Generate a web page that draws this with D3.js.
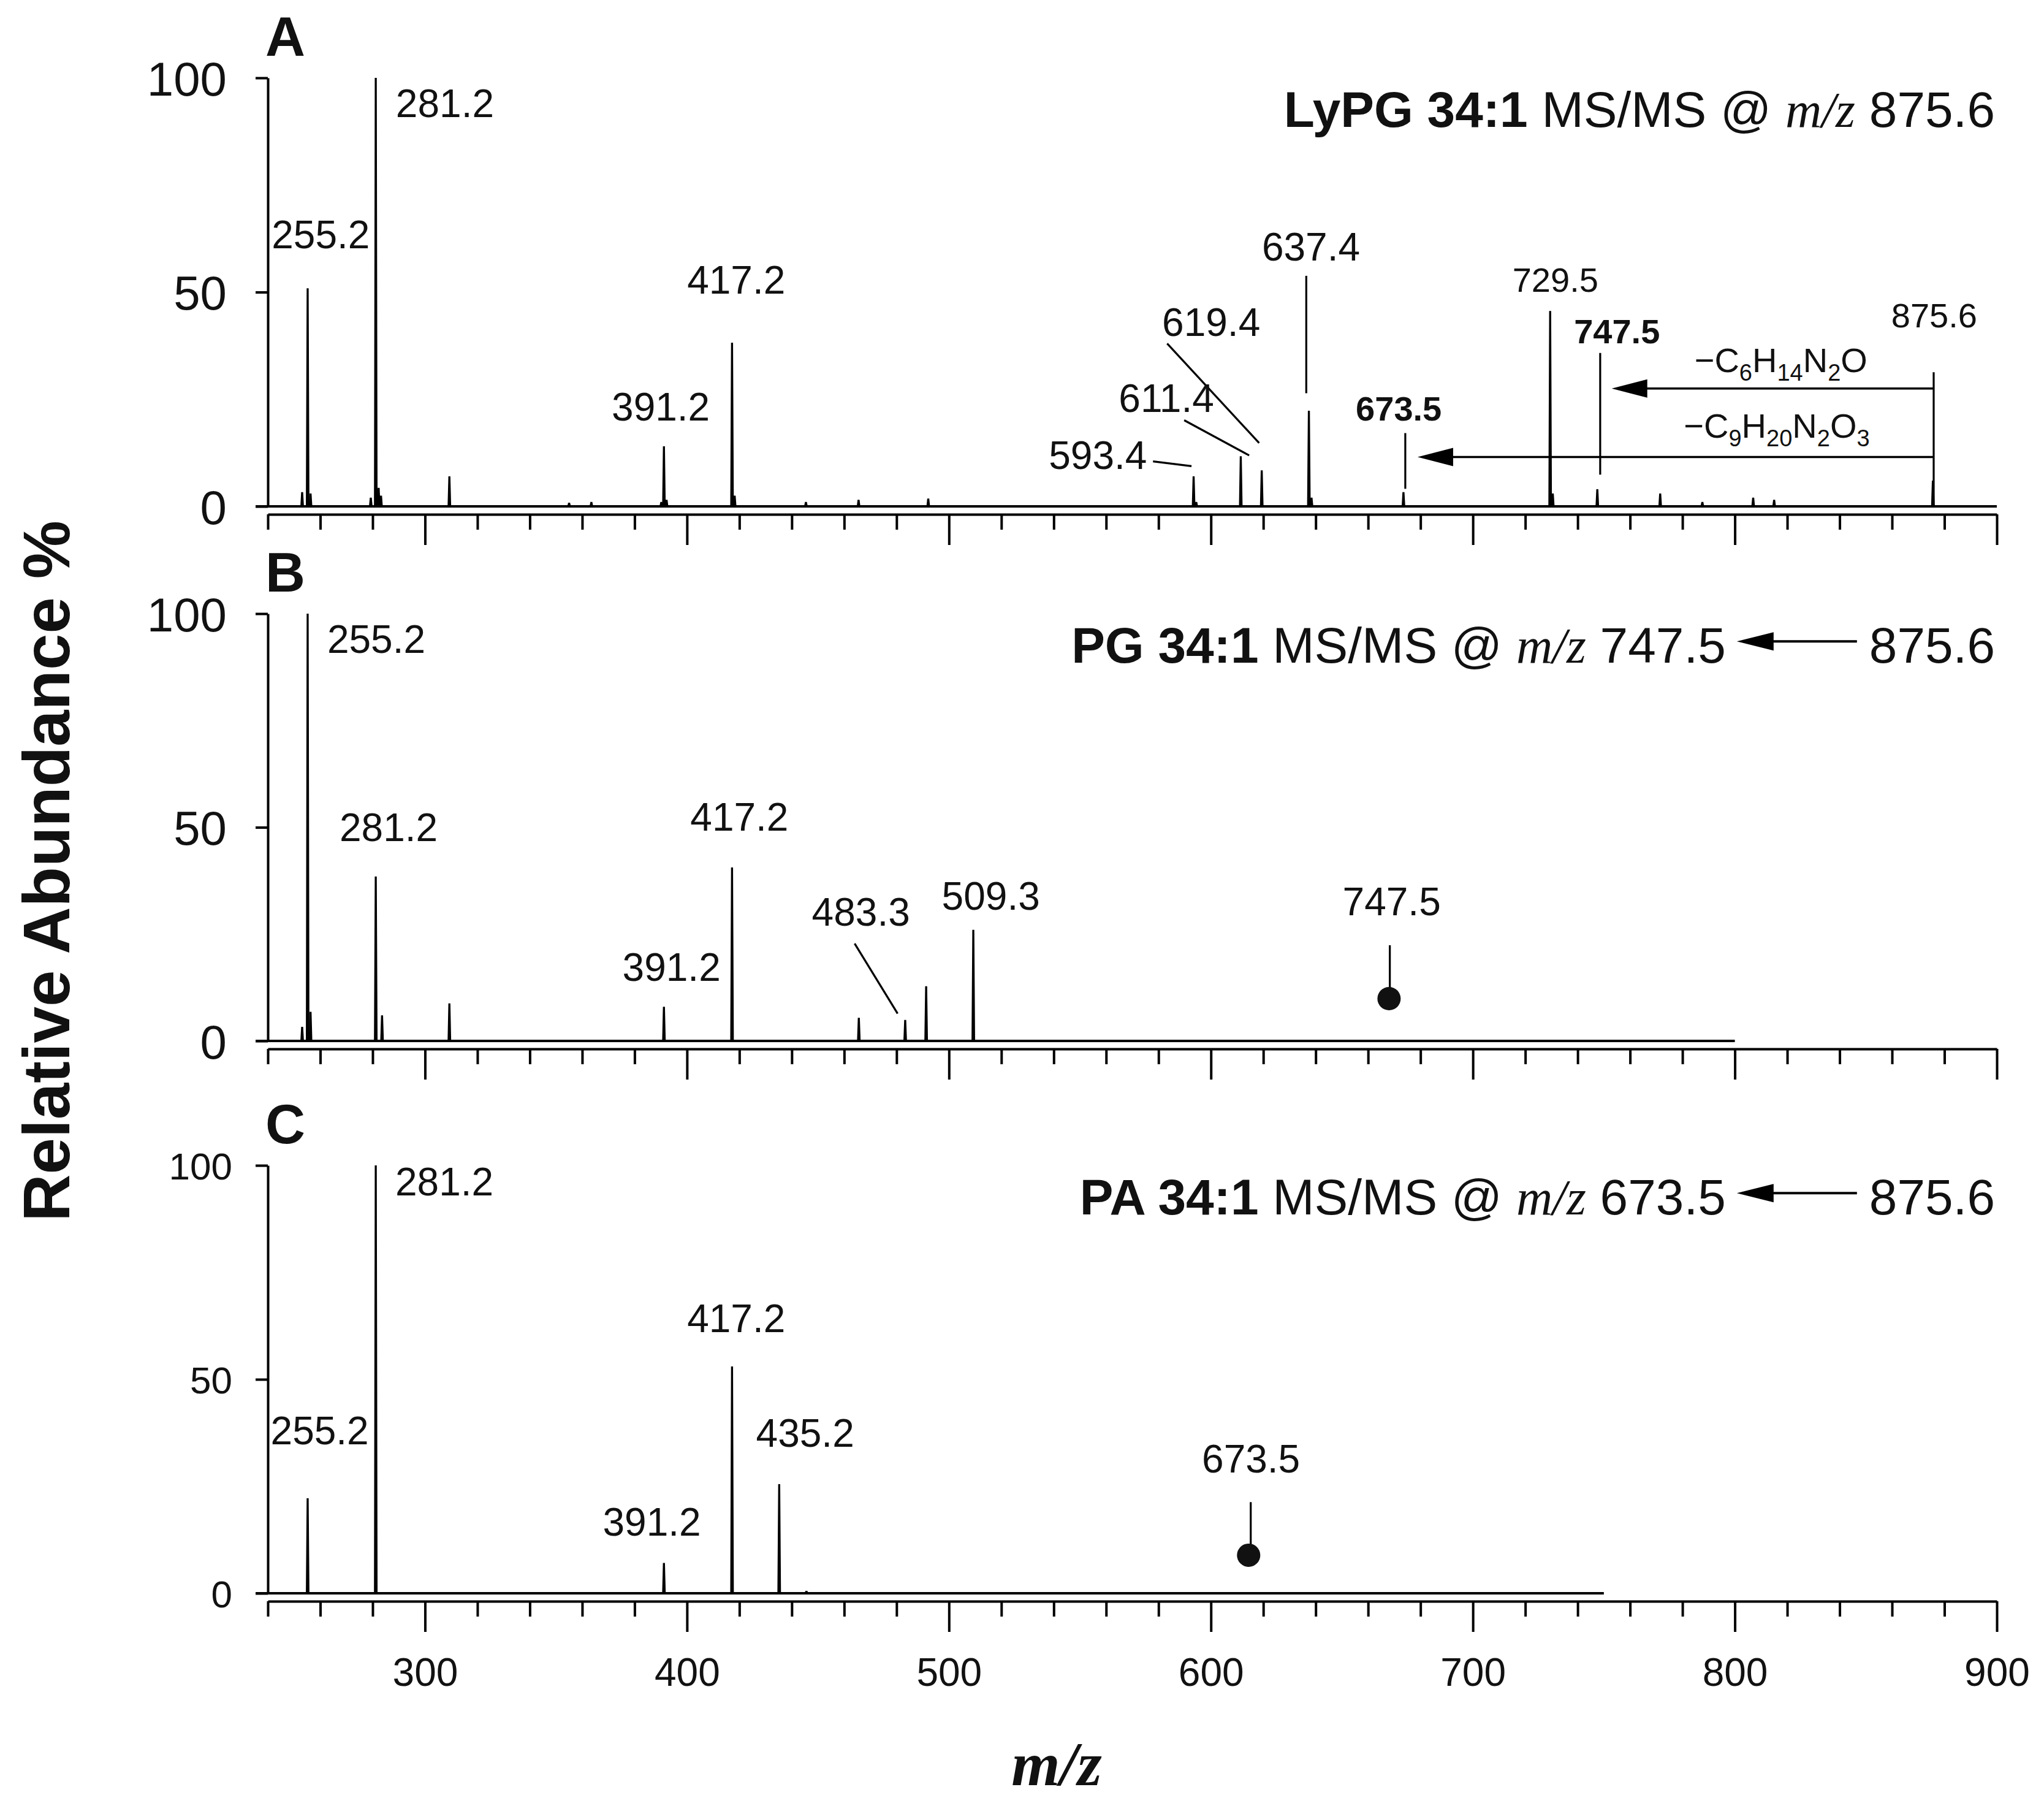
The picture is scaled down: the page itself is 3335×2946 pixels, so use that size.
<!DOCTYPE html>
<html><head><meta charset="utf-8">
<script src="https://cdn.jsdelivr.net/npm/d3@7"></script>
<style>body{margin:0;background:#fff}</style>
</head><body>
<svg id="chart" width="3335" height="2946" xmlns="http://www.w3.org/2000/svg"></svg>
<script>
// ---------------- DATA ----------------
// Panel A : LyPG 34:1 MS/MS @ m/z 875.6
const mzA = [253.1, 255.2, 256.3, 279.3, 281.2, 282.3, 283.2, 309.3, 355.0, 363.5, 390.2, 391.2, 392.2, 417.2, 418.2, 445.4, 465.5, 492.1, 593.4, 594.4, 611.4, 619.4, 637.4, 638.4, 673.5, 729.5, 730.5, 747.5, 771.5, 787.6, 807.0, 815.0, 875.6];
const abA = [3.3, 50.9, 3.0, 2.0, 100, 4.3, 2.5, 7.0, 0.8, 1.0, 1.0, 14.0, 1.5, 38.2, 2.5, 1.0, 1.5, 1.8, 7.0, 1.0, 11.7, 8.4, 22.3, 2.0, 3.3, 45.6, 3.0, 4.0, 3.0, 1.0, 2.0, 1.5, 6.0];
// Panel B : PG 34:1 MS/MS @ m/z 747.5
const mzB = [253.1, 255.2, 256.3, 281.2, 283.6, 309.3, 391.2, 417.2, 465.6, 483.3, 491.3, 509.3];
const abB = [3.3, 100, 6.8, 38.5, 6.0, 8.8, 8.0, 40.6, 5.4, 4.9, 12.8, 26.0];
// Panel C : PA 34:1 MS/MS @ m/z 673.5
const mzC = [255.2, 281.2, 391.2, 417.2, 435.2, 445.6];
const abC = [22.2, 100, 7.1, 53.0, 25.5, 0.5];

const baselineEnd = [900, 800, 750];
const yTicks = [0, 50, 100];
const xTicks = d3.range(240, 901, 20);
const xLabelTicks = [300, 400, 500, 600, 700, 800, 900];

// peak labels: text, m/z position, abundance position (baseline of text)
const labelsA = [
  ["255.2", 260.2, 60.3], ["281.2", 307.6, 90.8], ["391.2", 390.0, 20.1], ["417.2", 418.8, 49.7],
  ["593.4", 575.6, 8.7], ["611.4", 583.0, 22.1], ["619.4", 600.1, 39.8], ["637.4", 638.2, 57.4],
  ["673.5", 671.7, 20.1], ["729.5", 731.5, 50.1], ["747.5", 755.0, 38.1], ["875.6", 876.1, 41.8]
];
const labelsB = [
  ["255.2", 281.4, 90.8], ["281.2", 286.1, 46.8], ["391.2", 394.1, 14.0], ["417.2", 420.0, 49.2],
  ["483.3", 466.4, 27.0], ["509.3", 516.0, 30.7], ["747.5", 669.0, 29.4]
];
const labelsC = [
  ["255.2", 259.8, 34.8], ["281.2", 307.4, 93.0], ["391.2", 386.6, 13.4], ["417.2", 418.8, 61.0],
  ["435.2", 445.1, 34.2], ["673.5", 615.3, 28.2]
];
// leader lines [mz1, ab1, mz2, ab2]
const leadersA = [[583.3, 38.0, 618.4, 14.8], [589.8, 20.1, 614.6, 11.9], [577.9, 10.5, 592.6, 9.4],
  [636.4, 53.8, 636.4, 26.4], [674.2, 17.1, 674.2, 4.1], [748.6, 35.8, 748.6, 7.4], [875.9, 31.3, 875.9, 0]];
const leadersB = [[464.0, 22.8, 480.4, 6.4], [668.3, 22.4, 668.3, 9.9]];
const leadersC = [[615.2, 21.3, 615.2, 8.9]];
// precursor markers
const markersB = [[668.0, 9.9]];
const markersC = [[614.4, 8.9]];
// neutral-loss arrows in A: [from m/z, to m/z, abundance]
const arrowsA = [[875.9, 753.0, 27.5], [875.9, 678.9, 11.5]];
const lossA = [
  {parts: [["−C", 0], ["6", 1], ["H", 0], ["14", 1], ["N", 0], ["2", 1], ["O", 0]], mz: 817.6, ab: 31.3},
  {parts: [["−C", 0], ["9", 1], ["H", 0], ["20", 1], ["N", 0], ["2", 1], ["O", 0], ["3", 1]], mz: 816.0, ab: 16.0}
];
const titles = [
  {lipid: "LyPG 34:1", mz: "875.6", parent: null},
  {lipid: "PG 34:1", mz: "747.5", parent: "875.6"},
  {lipid: "PA 34:1", mz: "673.5", parent: "875.6"}
];

// ---------------- LAYOUT ----------------
const SANS = "'Liberation Sans', Arial, sans-serif";
const SERIF = "'Liberation Serif', 'Times New Roman', serif";
const svg = d3.select("#chart");
svg.append("rect").attr("width", 3335).attr("height", 2946).attr("fill", "#fff");

const x = d3.scaleLinear().domain([240, 900]).range([437, 3258]);

const panels = [
  {letter: "A", y0: 826, y100: 127, mz: mzA, ab: abA, labels: labelsA, leaders: leadersA, markers: [], tickFont: 78, tickPad: 47},
  {letter: "B", y0: 1698, y100: 1001, mz: mzB, ab: abB, labels: labelsB, leaders: leadersB, markers: markersB, tickFont: 78, tickPad: 47},
  {letter: "C", y0: 2599, y100: 1901, mz: mzC, ab: abC, labels: labelsC, leaders: leadersC, markers: markersC, tickFont: 62, tickPad: 38}
];

panels.forEach((p, i) => {
  const y = d3.scaleLinear().domain([0, 100]).range([p.y0, p.y100]);
  const g = svg.append("g");

  // y axis
  const ya = g.append("g").attr("transform", `translate(${x(240)},0)`)
    .call(d3.axisLeft(y).tickValues(yTicks).tickSize(20).tickSizeOuter(0).tickPadding(p.tickPad));
  ya.select(".domain").attr("stroke-width", 4);
  ya.selectAll(".tick line").attr("stroke-width", 4);
  ya.selectAll(".tick text").attr("font-family", SANS).attr("font-size", p.tickFont).attr("fill", "#111").attr("dy", "0.36em");

  // x axis
  const xa = g.append("g").attr("transform", `translate(0,${p.y0 + 13})`)
    .call(d3.axisBottom(x).tickValues(xTicks).tickSize(25).tickSizeOuter(0).tickPadding(68)
      .tickFormat(d => (i === 2 && xLabelTicks.includes(d)) ? d : ""));
  xa.select(".domain").attr("stroke-width", 4);
  xa.selectAll(".tick line").attr("stroke-width", 4).attr("y2", d => d % 100 === 0 ? 50 : 25);
  xa.selectAll(".tick text").attr("font-family", SANS).attr("font-size", 64).attr("fill", "#111");

  // baseline
  g.append("line").attr("x1", x(240) - 20).attr("x2", x(baselineEnd[i]))
    .attr("y1", y(0)).attr("y2", y(0)).attr("stroke", "#000").attr("stroke-width", 4);

  // peaks
  const peaks = d3.zip(p.mz, p.ab);
  g.selectAll("path.peak").data(peaks).join("path").attr("class", "peak")
    .attr("d", d => `M${x(d[0] - 0.3)},${y(0)}L${x(d[0])},${y(d[1])}L${x(d[0] + 0.3)},${y(0)}Z`)
    .attr("fill", "#000").attr("stroke", "#000").attr("stroke-width", 3.3).attr("stroke-linejoin", "bevel");

  // leaders
  g.selectAll("line.leader").data(p.leaders).join("line").attr("class", "leader")
    .attr("x1", d => x(d[0])).attr("y1", d => y(d[1])).attr("x2", d => x(d[2])).attr("y2", d => y(d[3]))
    .attr("stroke", "#000").attr("stroke-width", 3.2);

  // markers
  g.selectAll("circle.mk").data(p.markers).join("circle").attr("class", "mk")
    .attr("cx", d => x(d[0])).attr("cy", d => y(d[1])).attr("r", 19).attr("fill", "#111");

  // peak labels
  const boldSet = i === 0 ? ["673.5", "747.5"] : [];
  const smallSet = i === 0 ? ["673.5", "747.5", "729.5", "875.6"] : [];
  g.selectAll("text.lbl").data(p.labels).join("text").attr("class", "lbl")
    .attr("x", d => x(d[1])).attr("y", d => y(d[2]))
    .attr("text-anchor", d => (i === 0 && d[0] === "593.4") ? "end" : "middle")
    .attr("font-family", SANS)
    .attr("font-size", d => smallSet.includes(d[0]) ? 56 : 64)
    .attr("font-weight", d => boldSet.includes(d[0]) ? "bold" : "normal")
    .attr("fill", "#111").text(d => d[0]);

  // panel letter
  g.append("text").attr("x", 433).attr("y", p.y100 - 36).attr("font-family", SANS)
    .attr("font-weight", "bold").attr("font-size", 90).attr("fill", "#111").text(p.letter);

  // title
  const t = titles[i];
  const ty = y(88.5);
  let rightEdge = x(899.3);
  if (t.parent) {
    const pt = g.append("text").attr("x", rightEdge).attr("y", ty).attr("text-anchor", "end")
      .attr("font-family", SANS).attr("font-size", 82).attr("fill", "#111").text(t.parent);
    const w = pt.node().getComputedTextLength();
    const aStart = rightEdge - w - 20, aTip = aStart - 196, ay = ty - 35;
    g.append("line").attr("x1", aStart).attr("x2", aTip + 40).attr("y1", ay).attr("y2", ay)
      .attr("stroke", "#000").attr("stroke-width", 4);
    g.append("path").attr("d", `M${aTip},${ay}L${aTip + 60},${ay - 15}L${aTip + 60},${ay + 15}Z`).attr("fill", "#000");
    rightEdge = aTip - 18;
  }
  const tt = g.append("text").attr("x", rightEdge).attr("y", ty).attr("text-anchor", "end")
    .attr("font-family", SANS).attr("font-size", 82).attr("fill", "#111");
  tt.append("tspan").attr("font-weight", "bold").text(t.lipid);
  tt.append("tspan").text(" MS/MS @ ");
  tt.append("tspan").attr("font-family", SERIF).attr("font-style", "italic").text("m/z");
  tt.append("tspan").text(" " + t.mz);

  if (i === 0) {
    // neutral loss arrows
    g.selectAll("line.arr").data(arrowsA).join("line").attr("class", "arr")
      .attr("x1", d => x(d[0])).attr("x2", d => x(d[1]) + 40).attr("y1", d => y(d[2])).attr("y2", d => y(d[2]))
      .attr("stroke", "#000").attr("stroke-width", 3.5);
    g.selectAll("path.arrh").data(arrowsA).join("path").attr("class", "arrh")
      .attr("d", d => { const tx = x(d[1]), yy = y(d[2]); return `M${tx},${yy}L${tx + 58},${yy - 15}L${tx + 58},${yy + 15}Z`; })
      .attr("fill", "#000");
    // formula labels
    lossA.forEach(f => {
      const ft = g.append("text").attr("x", x(f.mz)).attr("y", y(f.ab)).attr("text-anchor", "middle")
        .attr("font-family", SANS).attr("font-size", 56).attr("fill", "#111");
      f.parts.forEach((pp, k) => {
        const prevSub = k > 0 && f.parts[k - 1][1] === 1;
        const ts = ft.append("tspan").text(pp[0]);
        if (pp[1] === 1) ts.attr("font-size", 38).attr("dy", prevSub ? 0 : 14);
        else if (prevSub) ts.attr("dy", -14);
      });
    });
  }
});

// axis titles
svg.append("text").attr("transform", "translate(113,1421) rotate(-90)").attr("text-anchor", "middle")
  .attr("font-family", SANS).attr("font-weight", "bold").attr("font-size", 107).attr("fill", "#111")
  .text("Relative Abundance %");
svg.append("text").attr("x", 1724).attr("y", 2912).attr("text-anchor", "middle")
  .attr("font-family", SERIF).attr("font-weight", "bold").attr("font-style", "italic")
  .attr("font-size", 102).attr("fill", "#111").text("m/z");
</script>
</body></html>
